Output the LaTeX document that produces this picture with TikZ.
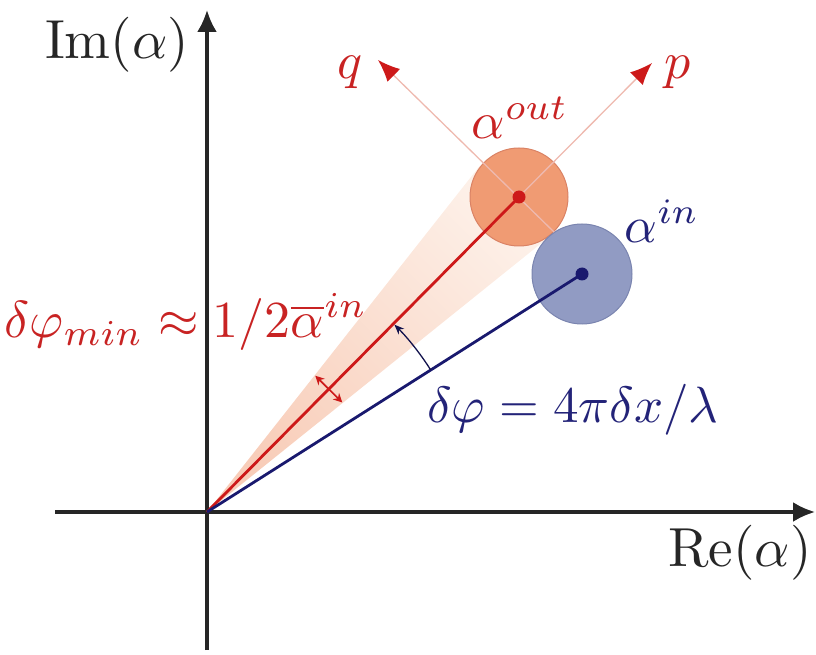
\documentclass[tikz,border=0pt]{standalone}
\usetikzlibrary{arrows.meta,calc}
\definecolor{redline}{RGB}{205,25,25}
\definecolor{navyline}{RGB}{25,25,110}
\definecolor{redfill}{RGB}{240,155,115}
\definecolor{reddraw}{RGB}{218,130,100}
\definecolor{bluefill}{RGB}{145,155,195}
\definecolor{bluedraw}{RGB}{122,132,175}
\definecolor{wedgecol}{RGB}{248,205,185}
\definecolor{wedgelight}{RGB}{253,240,232}
\definecolor{lightline}{RGB}{238,185,175}
\definecolor{redlabel}{RGB}{200,35,35}
\definecolor{bluelabel}{RGB}{35,35,120}
\tikzset{
  axis/.style={line width=3.2pt,black!85,-{Latex[length=22pt,width=20pt]}},
  axlabel/.style={scale=5.5,inner sep=0pt,black!85},
  redlab/.style={scale=5.2,inner sep=0pt,text=redlabel},
  bluelab/.style={scale=5.1,inner sep=0pt,text=bluelabel},
  pqline/.style={line width=1.3pt,lightline,-{Latex[length=22pt,width=18pt,color=redline]}},
}
\begin{document}
\begin{tikzpicture}[x=1pt,y=1pt]
\useasboundingbox (0,0) rectangle (816,654);
% key points
\coordinate (O) at (207,142);
\coordinate (R) at (519,457);
\coordinate (B) at (582,380);
\coordinate (T1) at (479.6,488);
\coordinate (T2) at (550.3,418);
\coordinate (xs) at (55,142);
\coordinate (xe) at (815,142);
\coordinate (ys) at (207,4);
\coordinate (ye) at (207,644);
\coordinate (qs) at (554,422);
\coordinate (qe) at (378,594);
\coordinate (ps) at (484,422);
\coordinate (pe) at (652,591);
\coordinate (d1) at (315.3,278.3);
\coordinate (d2) at (342.3,251.5);
% wedge
\shade[top color=wedgecol,bottom color=wedgelight,shading angle=135] (O) -- (T1) -- (T2) -- cycle;
% circles
\draw[fill=redfill,draw=reddraw,line width=1pt] (R) circle[radius=49];
\draw[fill=bluefill,draw=bluedraw,line width=1pt] (B) circle[radius=50];
% p, q directions
\draw[pqline] (qs) -- (qe);
\draw[pqline] (ps) -- (pe);
% axes
\draw[axis] (xs) -- (xe);
\draw[axis] (ys) -- (ye);
% phasors
\draw[redline,line width=2.8pt] (O) -- (R);
\draw[navyline,line width=2.8pt] (O) -- (B);
\fill[redline] (R) circle[radius=6.5];
\fill[navyline] (B) circle[radius=6.5];
% angle arc
\draw[navyline!70!black,line width=1.3pt,-{Stealth[length=10pt,width=8pt]}]
  (O) ++(32.4:265) arc[start angle=32.4,end angle=45.0,radius=265];
% width arrow
\draw[redline,line width=1.7pt,{Stealth[length=9pt,width=9pt]}-{Stealth[length=9pt,width=9pt]}] (d1) -- (d2);
% labels
\node[axlabel] (im) at (117,609) {$\mathrm{Im}(\alpha)$};
\node[axlabel] (re) at (740,101) {$\mathrm{Re}(\alpha)$};
\node[redlab] (q) at (350,582) {$q$};
\node[redlab] (p) at (678,582) {$p$};
\node[redlab] (aout) at (520,536) {$\alpha^{out}$};
\node[bluelab] (ain) at (662,433) {$\alpha^{in}$};
\node[redlab] (dmin) at (186,332) {$\delta\varphi_{min}\approx 1/2\overline{\alpha}^{in}$};
\node[bluelab] (dphi) at (573,244) {$\delta\varphi = 4\pi\delta x/\lambda$};
\end{tikzpicture}
\end{document}
